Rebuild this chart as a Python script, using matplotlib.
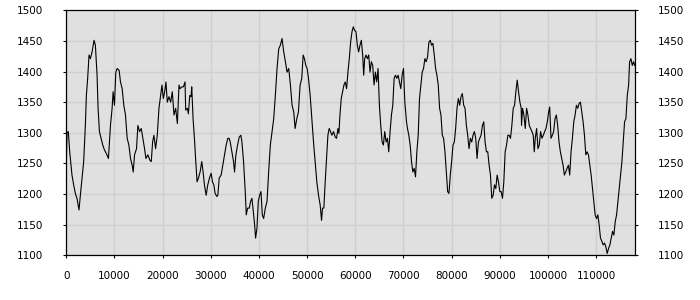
import matplotlib
matplotlib.use("Agg")
import matplotlib.pyplot as plt


# positions along the x axis and the traced values
x_vals = [
    0, 150, 420, 700, 1180, 1530, 1880, 2220, 2640, 2920, 3260, 3610, 3960, 4170,
    4440, 4720, 5000, 5350, 5760, 6040, 6390, 6600, 6880, 7220, 7570, 7920, 8330,
    8750, 8960, 9170, 9510, 9720, 10000, 10280, 10560, 10970, 11250, 11600, 11940,
    12290, 12640, 12990, 13330, 13680, 13890, 14170, 14580, 14860, 15210, 15560,
    15900, 16250, 16530, 16940, 17360, 17640, 17920, 18190, 18540, 18890, 19240,
    19580, 19860, 20140, 20420, 20690, 20970, 21320, 21670, 22010, 22360, 22710,
    23060, 23400,
    23610, 23960, 24310, 24650, 24790, 25140, 25350, 25630, 25900, 26040, 26320,
    26600, 26880, 27150, 27430, 27780, 28120, 28400, 28680, 29030, 29370, 29720,
    30070, 30350, 30630, 30900, 31250, 31460, 31740, 32150, 32500, 32850, 33190,
    33540, 33820, 34030, 34375, 34720, 34930, 35210, 35560, 35900, 36250, 36460,
    36800, 37150, 37360, 37640, 37990, 38260, 38540, 38820, 39100, 39300, 39580,
    39860, 40140, 40420, 40690, 40970, 41320, 41670, 42010, 42360, 42710, 43060,
    43400, 43750, 44100, 44440, 44790, 45140, 45490, 45830, 46180, 46530, 46870,
    47220,
    47500, 47850, 48190, 48540, 48890, 49170, 49440, 49720, 50000, 50280, 50630,
    50970, 51320, 51670, 52010, 52360, 52710, 52990, 53190, 53470, 53750, 54030,
    54310, 54580, 54860, 55140, 55490, 55830, 56110, 56390, 56600, 56810, 57080,
    57360, 57640, 57920, 58190, 58470, 58750, 59030, 59310, 59580, 59860, 60140,
    60420, 60690, 60970, 61250, 61530, 61740, 61940, 62220, 62500, 62780, 63060,
    63330, 63610, 63890, 64170, 64440, 64720, 65000, 65280, 65560, 65830, 66110,
    66390, 66670, 66940, 67220, 67500, 67780, 68060, 68330, 68610, 68890, 69170,
    69440, 69720, 70000, 70280, 70630,
    70830, 71110, 71390, 71670, 71940, 72220, 72500, 72780, 73060, 73330, 73610,
    73890, 74170, 74440, 74720, 75000, 75280, 75560, 75830, 76110, 76390, 76670,
    76940, 77220, 77500, 77780, 78060, 78330, 78610, 78890, 79170, 79440, 79720,
    80000, 80280, 80560, 80830, 81110, 81390, 81670, 81940, 82220, 82500, 82780,
    83060, 83330, 83610, 83890, 84170, 84440, 84720, 85000, 85280, 85560, 85830,
    86110, 86390, 86670, 86940, 87220, 87500, 87780, 88060, 88330, 88610, 88890,
    89170, 89440, 89720, 90000, 90280, 90560, 90830, 91110, 91390, 91670, 91940,
    92220, 92500, 92780, 93060, 93330, 93610, 93890, 94170, 94440,
    94510, 94720, 95000, 95280, 95560, 95830, 96110, 96390, 96670, 96940, 97150,
    97360, 97640, 97920, 98190, 98470, 98750, 99030, 99310, 99580, 99860, 100140,
    100350, 100630, 100900, 101180, 101460, 101740, 102010, 102290, 102570,
    102850, 103130, 103400, 103680, 103960, 104240, 104510, 104790, 105070,
    105350, 105630, 105900, 106180, 106460, 106740, 107010, 107290, 107570,
    107850, 108120, 108400, 108680, 108960, 109240, 109510, 109790, 110070,
    110350, 110620, 110900, 111180, 111460, 111740, 112010, 112290, 112570,
    112850, 113120, 113400, 113680, 113960, 114240, 114510, 114790, 115070,
    115350, 115630, 115900, 116180, 116460, 116740, 116940, 117220, 117500,
    117780, 117990,
]

y_vals = [
    1250, 1300, 1302, 1270, 1231, 1215, 1201, 1193, 1174, 1198, 1225, 1253, 1312, 1361,
    1389, 1427, 1421, 1432, 1451, 1443, 1394, 1340, 1302, 1291, 1280, 1272, 1266,
    1258, 1285, 1312, 1340, 1367, 1345, 1399, 1405, 1402, 1383, 1372, 1345,
    1329, 1291, 1280, 1258, 1247, 1236, 1264, 1274, 1312, 1302, 1307,
    1291, 1274, 1258, 1264, 1255, 1253, 1285, 1296, 1274, 1296, 1340,
    1361, 1378, 1356, 1367, 1383, 1350, 1359, 1350, 1367, 1329, 1340,
    1315, 1378,
    1372, 1375, 1375, 1383, 1337, 1340, 1331, 1361, 1359, 1375, 1323,
    1291, 1253, 1220, 1226, 1236, 1253, 1236, 1215, 1198, 1215, 1226,
    1234, 1220, 1215, 1201, 1196, 1198, 1226, 1231, 1247, 1264, 1280,
    1291, 1291, 1285, 1269, 1253, 1236, 1264, 1280, 1293, 1296, 1285,
    1253, 1204, 1166, 1177, 1177, 1188, 1193, 1172, 1150, 1128, 1144,
    1188, 1198, 1204, 1166, 1160, 1177, 1188, 1236, 1280, 1302, 1323,
    1361, 1405, 1437, 1443, 1454, 1432, 1416, 1399, 1405, 1378, 1345,
    1334,
    1307, 1323, 1334, 1378, 1389, 1427, 1421, 1410, 1405, 1389, 1361,
    1323, 1285, 1253, 1220, 1198, 1182, 1157, 1177, 1177, 1220, 1258,
    1296, 1307, 1302, 1296, 1302, 1293, 1291, 1307, 1299, 1329, 1356,
    1367, 1378, 1383, 1372, 1399, 1421, 1448, 1465, 1473, 1467, 1465,
    1443, 1432, 1443, 1451, 1427, 1394, 1421, 1427, 1421, 1427, 1399,
    1416, 1410, 1378, 1399, 1383, 1405, 1345, 1312, 1285, 1280, 1302,
    1285, 1291, 1269, 1302, 1329, 1345, 1389, 1394, 1389, 1394, 1383,
    1372, 1394, 1405, 1350, 1318,
    1307, 1296, 1280, 1253, 1236, 1242, 1228, 1269, 1296, 1356, 1378,
    1399, 1405, 1421, 1416, 1424, 1448, 1451, 1443, 1446, 1427, 1405,
    1394, 1378, 1340, 1329, 1296, 1291, 1269, 1236, 1204, 1201, 1231,
    1253, 1280, 1285, 1307, 1340, 1356, 1345, 1359, 1364, 1345, 1340,
    1312, 1296, 1274, 1291, 1285, 1296, 1302, 1291, 1258, 1285, 1291,
    1296, 1312, 1318, 1285, 1269, 1269, 1247, 1231, 1193, 1198, 1215,
    1209, 1231, 1220, 1204, 1204, 1193, 1220, 1269, 1280, 1296, 1296,
    1291, 1312, 1340, 1345, 1367, 1386, 1367, 1350, 1340,
    1312, 1340, 1329, 1307, 1340, 1329, 1312, 1307, 1302, 1296, 1269,
    1291, 1307, 1274, 1280, 1302, 1291, 1296, 1302, 1307, 1318, 1334,
    1342, 1291, 1296, 1302, 1323, 1329, 1312, 1285, 1269,
    1258, 1247, 1231, 1236, 1242, 1247, 1231, 1269, 1291,
    1318, 1329, 1345, 1340, 1348, 1350, 1334, 1318, 1296,
    1264, 1269, 1264, 1247, 1231, 1209, 1188, 1166, 1160,
    1166, 1150, 1128, 1123, 1117, 1120, 1114, 1103, 1111,
    1117, 1128, 1139, 1133, 1155, 1166, 1188, 1209, 1231,
    1253, 1285, 1318, 1323, 1361, 1378, 1416, 1421, 1410,
    1416, 1410,
]

x_ticks = list(range(0, 110001, 10000))
y_ticks = list(range(1100, 1501, 50))


fig = plt.figure(figsize=(7, 3), dpi=100)
ax = fig.add_axes([0.0947, 0.149, 0.812, 0.8167])

ax.set_facecolor("#e0e0e0")
ax.plot(x_vals, y_vals, color="black", linewidth=0.8)

ax.set_xlim(0, 118000)
ax.set_ylim(1100, 1500)
ax.set_xticks(x_ticks)
ax.set_yticks(y_ticks)

ax.grid(True, color="#d0d0d0", linewidth=1.0)
ax.set_axisbelow(True)

for side in ax.spines.values():
    side.set_color("black")
    side.set_linewidth(0.9)

ax.tick_params(axis="y", which="both", left=True, right=True,
               labelleft=True, labelright=True, direction="out",
               length=2.5, width=0.8, pad=14, labelsize=7.5)
ax.tick_params(axis="x", direction="out", length=2, width=0.8,
               pad=9.5, labelsize=7.5)

fig.savefig("out.png", dpi=100)
plt.close(fig)
